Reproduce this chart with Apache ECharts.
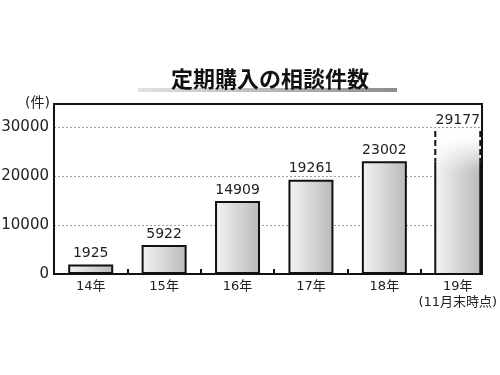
<!DOCTYPE html>
<html><head><meta charset="utf-8">
<script src="https://cdn.jsdelivr.net/npm/echarts@6/dist/echarts.min.js"></script>
<style>html,body{margin:0;padding:0;background:#fff}#c{width:500px;height:375px}</style>
</head><body><div id="c"></div>
<script>
const titleText = '定期購入の相談件数';
const unitText = '(件)';
const categories = ['14年', '15年', '16年', '17年', '18年', '19年\n(11月末時点)'];
const counts = [1925, 5922, 14909, 19261, 23002, 29177];
const yTicks = [0, 10000, 20000, 30000];
const dashedFrom = 23000; // value where the partial-year bar turns dashed

const FONT = "'DejaVu Sans', 'Noto Sans CJK JP', sans-serif";
const barFill = {type:'linear', x:0, y:0, x2:1, y2:0, colorStops:[{offset:0,color:'#f4f4f4'},{offset:1,color:'#b9b9b9'}]};

const fullYears = counts.slice(0, 5).map((v, i) => [i, v]);
const partial = [[5, counts[5]]];

const chart = echarts.init(document.getElementById('c'));
chart.setOption({
  animation: false,
  backgroundColor: '#fff',
  title: {
    text: titleText, left: 166, top: 63,
    textStyle: {fontFamily: "'Noto Sans CJK JP', sans-serif", fontSize: 22, fontWeight: 'bold', color: '#111'}
  },
  graphic: [{
    type: 'rect', left: 138, top: 88, z: -1,
    shape: {width: 259, height: 4},
    style: {fill: {type:'linear', x:0, y:0, x2:1, y2:0, colorStops:[{offset:0,color:'#e2e2e2'},{offset:1,color:'#8c8c8c'}]}}
  }, {
    type: 'text', left: 25, top: 96,
    style: {text: unitText, fontFamily: FONT, fontSize: 14, fill: '#222'}
  }],
  grid: {left: 54, right: 18, top: 104, bottom: 101, containLabel: false, outerBoundsMode: 'none',
    show: true, borderColor: '#111', borderWidth: 2, z: 5},
  xAxis: {
    type: 'value', min: -0.5, max: 5.33,
    axisLine: {show: false},
    splitLine: {show: false},
    axisTick: {show: true, inside: true, length: 5, customValues: [0.5, 1.5, 2.5, 3.5, 4.5], lineStyle: {color: '#111', width: 2}},
    axisLabel: {
      customValues: [0, 1, 2, 3, 4, 5], margin: 5,
      formatter: v => categories[Math.round(v)],
      fontFamily: FONT, fontSize: 13, color: '#222', lineHeight: 16, verticalAlign: 'top'
    }
  },
  yAxis: {
    type: 'value', min: 0, max: 34700, interval: 10000,
    axisLine: {show: false}, axisTick: {show: false},
    axisLabel: {fontFamily: FONT, fontSize: 15, color: '#222', margin: 5, showMaxLabel: false,
      formatter: v => yTicks.includes(v) ? String(v) : ''},
    splitLine: {show: true, showMinLine: false, showMaxLine: false, lineStyle: {color: '#9a9a9a', width: 1, type: [2, 2]}}
  },
  series: [{
    type: 'bar', data: fullYears, barWidth: 45, z: 3,
    itemStyle: {color: barFill, borderColor: '#111', borderWidth: 2},
    label: {show: true, position: 'top', distance: 4, fontFamily: FONT, fontSize: 14, color: '#222',
      formatter: p => String(p.value[1])}
  }, {
    type: 'custom', data: partial, z: 3,
    renderItem: (params, api) => {
      const x = api.value(0), v = api.value(1);
      const top = api.coord([x, v]);
      const bot = api.coord([x, 0]);
      const mid = api.coord([x, dashedFrom]);
      const w = 45, l = top[0] - w / 2, r = top[0] + w / 2;
      return {type: 'group', children: [
        {type: 'rect', shape: {x: l, y: top[1], width: w, height: bot[1] - top[1]}, style: {fill: barFill}},
        {type: 'rect', shape: {x: l - 1, y: top[1] - 1, width: w + 2, height: 42},
          style: {fill: {type:'linear', x:0, y:0, x2:0, y2:1, colorStops:[{offset:0,color:'rgba(255,255,255,1)'},{offset:0.25,color:'rgba(255,255,255,0.95)'},{offset:1,color:'rgba(255,255,255,0)'}]}}},
        {type: 'line', shape: {x1: l, y1: mid[1], x2: l, y2: bot[1]}, style: {stroke: '#111', lineWidth: 2}},
        {type: 'line', shape: {x1: r, y1: mid[1], x2: r, y2: bot[1]}, style: {stroke: '#111', lineWidth: 2}},
        {type: 'line', shape: {x1: l, y1: top[1], x2: l, y2: mid[1]}, style: {stroke: '#111', lineWidth: 2, lineDash: [6, 3]}},
        {type: 'line', shape: {x1: r, y1: top[1], x2: r, y2: mid[1]}, style: {stroke: '#111', lineWidth: 2, lineDash: [6, 3]}},
        {type: 'text', x: top[0], y: top[1] - 4, style: {text: String(v), fontFamily: FONT, fontSize: 14, fill: '#222', align: 'center', verticalAlign: 'bottom'}}
      ]};
    }
  }]
});
</script></body></html>
